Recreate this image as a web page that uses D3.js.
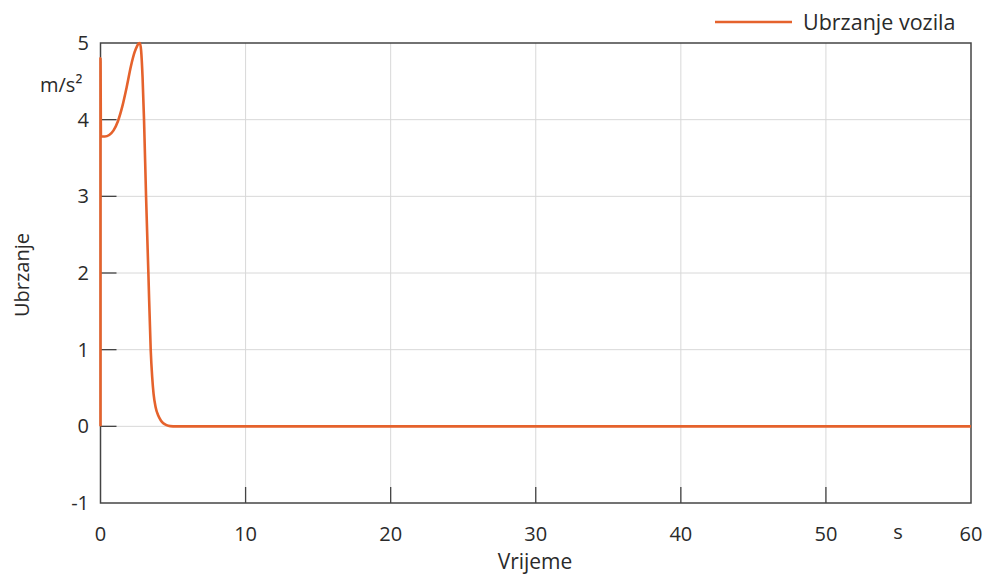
<!DOCTYPE html>
<html><head><meta charset="utf-8">
<script src="https://cdn.jsdelivr.net/npm/d3@7"></script>
<style>
html,body{margin:0;padding:0;background:#fff;}
svg text{font-family:"Open Sans","Noto Sans",sans-serif;fill:#2a2a2a;}
</style></head>
<body><svg id="c" width="987" height="574"></svg>
<script>
const timeS = [0, 0, 0.03, 0.3, 0.6, 0.9, 1.2, 1.5, 1.8, 2.1, 2.35, 2.52, 2.64, 2.72, 2.8, 2.9, 3.0, 3.14, 3.3, 3.46, 3.56, 3.66, 3.8, 3.98, 4.15, 4.33, 4.55, 4.8, 5.2, 6, 10, 20, 30, 40, 50, 60];
const accel = [0, 4.8, 3.78, 3.78, 3.80, 3.86, 3.98, 4.17, 4.42, 4.70, 4.88, 4.96, 4.995, 5.0, 4.9, 4.55, 4.0, 3.0, 2.0, 1.0, 0.65, 0.42, 0.25, 0.14, 0.08, 0.04, 0.015, 0.003, 0, 0, 0, 0, 0, 0, 0, 0];
const xTicks = [0, 10, 20, 30, 40, 50, 60];
const yTicks = [-1, 0, 1, 2, 3, 4, 5];
const seriesName = "Ubrzanje vozila";
const xTitle = "Vrijeme", yTitle = "Ubrzanje", yUnit = "m/s²", xUnit = "s";

const svg = d3.select("#c");
const L = 100.5, R = 971, T = 43, B = 503;
const x = d3.scaleLinear().domain([0, 60]).range([L, R]);
const y = d3.scaleLinear().domain([-1, 5]).range([B, T]);

// grid
svg.append("g").selectAll("line").data(xTicks.slice(1, -1)).join("line")
  .attr("x1", d => x(d)).attr("x2", d => x(d)).attr("y1", T).attr("y2", B)
  .attr("stroke", "#d8d8d8").attr("stroke-width", 1);
svg.append("g").selectAll("line").data(yTicks.slice(1, -1)).join("line")
  .attr("x1", L).attr("x2", R).attr("y1", d => y(d)).attr("y2", d => y(d))
  .attr("stroke", "#d8d8d8").attr("stroke-width", 1);

// ticks (inward)
svg.append("g").selectAll("line").data(xTicks.slice(1, -1)).join("line")
  .attr("x1", d => x(d)).attr("x2", d => x(d)).attr("y1", B - 16).attr("y2", B)
  .attr("stroke", "#444").attr("stroke-width", 1.3);
svg.append("g").selectAll("line").data(yTicks.slice(1, -1)).join("line")
  .attr("x1", L).attr("x2", L + 16).attr("y1", d => y(d)).attr("y2", d => y(d))
  .attr("stroke", "#444").attr("stroke-width", 1.3);

// frame
svg.append("rect").attr("x", L).attr("y", T).attr("width", R - L).attr("height", B - T)
  .attr("fill", "none").attr("stroke", "#444").attr("stroke-width", 1.5);

// tick labels
svg.append("g").selectAll("text").data(yTicks).join("text")
  .attr("x", 89).attr("y", d => y(d) + 7).attr("text-anchor", "end")
  .attr("font-size", 20).text(d => d);
svg.append("g").selectAll("text").data(xTicks).join("text")
  .attr("x", d => x(d)).attr("y", 541).attr("text-anchor", "middle")
  .attr("font-size", 20).text(d => d);

// units and titles
svg.append("text").attr("x", 40).attr("y", 92).attr("font-size", 20).text(yUnit);
svg.append("text").attr("x", 898).attr("y", 539).attr("text-anchor", "middle").attr("font-size", 20).text(xUnit);
svg.append("text").attr("x", 535).attr("y", 569).attr("text-anchor", "middle").attr("font-size", 21).text(xTitle);
svg.append("text").attr("transform", "translate(29,275) rotate(-90)").attr("text-anchor", "middle")
  .attr("font-size", 20).text(yTitle);

// line
const data = timeS.map((t, i) => [t, accel[i]]);
svg.append("path").datum(data)
  .attr("d", d3.line().x(d => x(d[0])).y(d => y(d[1])).curve(d3.curveMonotoneX))
  .attr("fill", "none").attr("stroke", "#E5622C").attr("stroke-width", 2.6)
  .attr("stroke-linejoin", "round");

// legend
svg.append("line").attr("x1", 715).attr("x2", 792).attr("y1", 22).attr("y2", 22)
  .attr("stroke", "#E5622C").attr("stroke-width", 2.6);
svg.append("text").attr("x", 803).attr("y", 30).attr("font-size", 21.5).text(seriesName);
</script></body></html>
